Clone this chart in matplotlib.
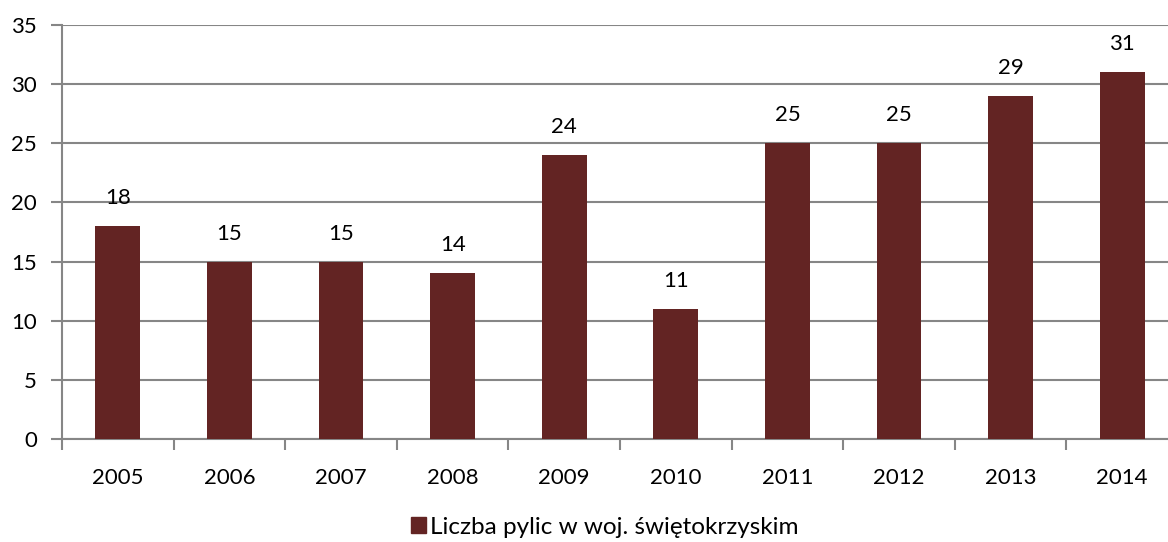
import numpy as np
import matplotlib.pyplot as plt
from matplotlib.patches import Patch

years = ['2005', '2006', '2007', '2008', '2009', '2010', '2011', '2012', '2013', '2014']
counts = [18, 15, 15, 14, 24, 11, 25, 25, 29, 31]
series_name = 'Liczba pylic w woj. świętokrzyskim'

bar_color = '#632423'
grid_color = '#868686'

plt.rcParams['font.family'] = ['Lato', 'DejaVu Sans']

fig = plt.figure(figsize=(11.68, 5.42), dpi=100)
W, H = 1168, 542
left, right, top, bottom = 62, 1178, 25, 439
ax = fig.add_axes([left / W, 1 - bottom / H, (right - left) / W, (bottom - top) / H])

x = np.arange(len(years))
ax.bar(x, counts, width=0.4, color=bar_color, zorder=3)
for xi, v in zip(x, counts):
    ax.annotate(str(v), (xi, v), xytext=(0, 13), textcoords='offset points',
                ha='center', va='bottom', fontsize=16, color='black', zorder=4)

ax.set_xlim(-0.5, len(years) - 0.5)
ax.set_ylim(0, 35)
ax.set_yticks(range(0, 36, 5))
ax.yaxis.grid(True, color=grid_color, linewidth=1.5, zorder=0)

ax.set_xticks(x)
ax.set_xticklabels(years)
ax.set_xticks(np.arange(-0.5, len(years), 1), minor=True)
ax.tick_params(axis='x', which='major', length=0, pad=21, labelsize=16)
ax.tick_params(axis='x', which='minor', length=8, width=1.5, color=grid_color, direction='out')
ax.tick_params(axis='y', length=8, width=1.5, color=grid_color, labelsize=16, pad=10)

for side in ['top', 'right']:
    ax.spines[side].set_visible(False)
for side in ['left', 'bottom']:
    ax.spines[side].set_color(grid_color)
    ax.spines[side].set_linewidth(1.5)

fig.legend(handles=[Patch(color=bar_color, label=series_name)], loc='center',
           bbox_to_anchor=(605 / W, 1 - 527 / H), frameon=False, fontsize=17.5,
           handlelength=0.6, handleheight=0.6, handletextpad=0.2)

fig.savefig('out.png', dpi=100)
